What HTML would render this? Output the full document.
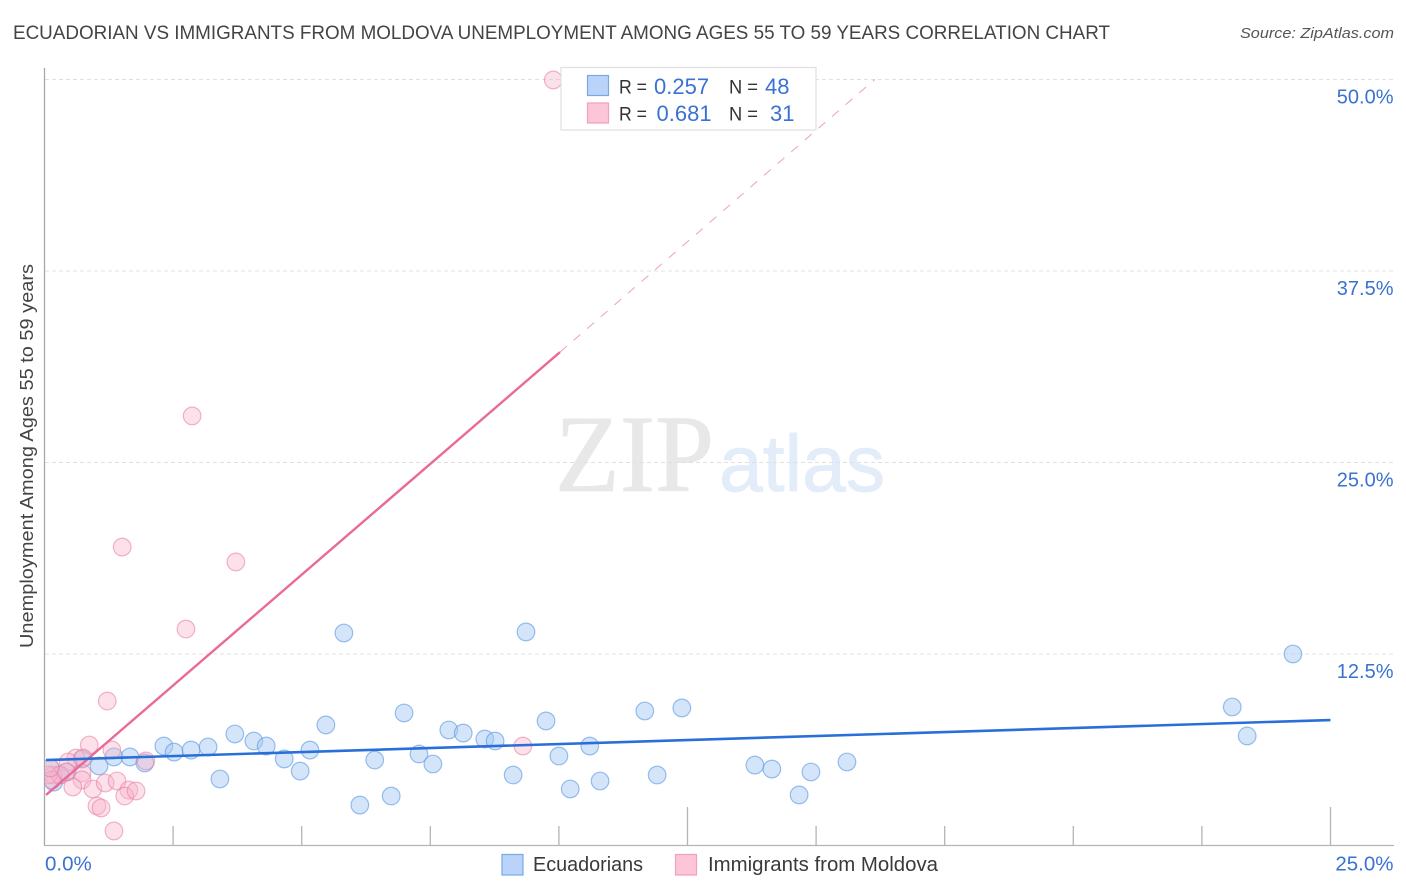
<!DOCTYPE html>
<html lang="en">
<head>
<meta charset="utf-8">
<title>Ecuadorian vs Immigrants from Moldova Unemployment Correlation Chart</title>
<style>
html,body{margin:0;padding:0;background:#fff;width:1406px;height:892px;overflow:hidden}
svg{display:block;font-family:"Liberation Sans",sans-serif}
</style>
</head>
<body>
<svg id="chart" xmlns="http://www.w3.org/2000/svg" width="1406" height="892" viewBox="0 0 1406 892">
  <defs>
    <clipPath id="plot-clip"><rect x="45.2" y="60" width="1360" height="786"/></clipPath>
  </defs>
  <rect width="1406" height="892" fill="#fff"/>
  <text x="13" y="39" font-size="19.5" fill="#444" textLength="1097" lengthAdjust="spacingAndGlyphs">ECUADORIAN VS IMMIGRANTS FROM MOLDOVA UNEMPLOYMENT AMONG AGES 55 TO 59 YEARS CORRELATION CHART</text>
  <text x="1394" y="38" font-size="15" font-style="italic" fill="#555" text-anchor="end" textLength="154" lengthAdjust="spacingAndGlyphs">Source: ZipAtlas.com</text>
  <text x="555" y="491" font-family="'Liberation Serif',serif" font-size="110" fill="#e8e8e8" stroke="#e8e8e8" stroke-width="0.8" textLength="159" lengthAdjust="spacingAndGlyphs">ZIP</text>
  <text x="719" y="491" font-size="80" fill="#e3ecf9" stroke="#e3ecf9" stroke-width="0.8" textLength="166" lengthAdjust="spacingAndGlyphs">atlas</text>
  <g id="grid"></g>
  <g id="axes"></g>
  <g id="series" clip-path="url(#plot-clip)"></g>
  <text transform="translate(33,456) rotate(-90)" font-size="18.5" fill="#444" text-anchor="middle" textLength="384" lengthAdjust="spacingAndGlyphs">Unemployment Among Ages 55 to 59 years</text>

  <g>
    <rect x="561" y="67.5" width="255" height="62.5" fill="#fff" stroke="#e0e0e0" stroke-width="1.2"/>
    <rect x="587.5" y="75.5" width="21" height="20" fill="#b9d4f8" stroke="#7aa8e6" stroke-width="1.2"/>
    <rect x="587.5" y="103" width="21" height="20" fill="#fcc6d8" stroke="#f0a0ba" stroke-width="1.2"/>
    <g font-size="19.5" fill="#333">
      <text x="619" y="93.5" textLength="28" lengthAdjust="spacingAndGlyphs">R =</text>
      <text x="729" y="93.5" textLength="29" lengthAdjust="spacingAndGlyphs">N =</text>
      <text x="619" y="120.5" textLength="28" lengthAdjust="spacingAndGlyphs">R =</text>
      <text x="729" y="120.5" textLength="29" lengthAdjust="spacingAndGlyphs">N =</text>
    </g>
    <g font-size="22" fill="#3a72d2">
      <text x="654" y="94">0.257</text>
      <text x="765" y="94">48</text>
      <text x="656.5" y="121">0.681</text>
      <text x="770" y="121">31</text>
    </g>
  </g>

  <g>
    <rect x="502" y="854.5" width="21" height="20.5" fill="#b9d4f8" stroke="#7aa8e6" stroke-width="1.2"/>
    <text x="533" y="871" font-size="20" fill="#3a3a3a" textLength="110" lengthAdjust="spacingAndGlyphs">Ecuadorians</text>
    <rect x="675.5" y="854.5" width="21" height="20.5" fill="#fcc6d8" stroke="#f0a0ba" stroke-width="1.2"/>
    <text x="708" y="871" font-size="20" fill="#3a3a3a" textLength="230" lengthAdjust="spacingAndGlyphs">Immigrants from Moldova</text>
  </g>
</svg>

<script>
const ecuadorianX = [0.11,0.18,0.30,0.44,0.73,1.06,1.35,1.66,1.95,2.32,2.52,2.85,3.18,3.41,3.70,4.07,4.31,4.66,4.97,5.16,5.47,5.82,6.13,6.42,6.74,6.99,7.28,7.55,7.86,8.14,8.56,8.76,9.11,9.36,9.75,10.00,10.22,10.60,10.80,11.67,11.91,12.39,13.81,14.14,14.67,14.90,15.60,23.09,23.38,24.27];
const ecuadorianY = [5.06,4.14,4.60,4.80,5.65,5.19,5.78,5.78,5.39,6.49,6.10,6.23,6.43,4.34,7.28,6.82,6.49,5.65,4.86,6.23,7.87,13.87,2.64,5.58,3.23,8.65,5.97,5.32,7.54,7.34,6.95,6.82,4.60,13.94,8.13,5.84,3.69,6.49,4.21,8.78,4.60,8.98,5.25,4.99,3.30,4.80,5.45,9.04,7.15,12.50];
const moldovaX = [9.89,2.87,1.51,3.72,2.75,1.22,9.30,0.87,1.31,0.61,0.46,0.75,1.97,0.17,0.30,0.73,0.73,0.55,0.94,1.18,1.41,1.64,1.56,1.78,1.02,1.10,1.35,0.07,0.15,0.42,0.11];
const moldovaY = [49.97,28.04,19.48,18.51,14.13,9.43,6.49,6.56,6.23,5.71,5.45,5.71,5.52,4.60,4.60,4.73,4.28,3.82,3.69,4.08,4.21,3.62,3.23,3.56,2.58,2.45,0.95,4.60,4.28,4.80,5.06];
const ecuadorianTrendX = [0.03,25.0];
const ecuadorianTrendY = [5.58,8.19];
const moldovaTrendX = [0.03,10.02];
const moldovaTrendY = [3.30,32.20];
const moldovaExtensionX = [10.02,16.14];
const moldovaExtensionY = [32.20,50.00];
const yTickValues = [12.5,25.0,37.5,50.0];
const yTickLabels = ["12.5%","25.0%","37.5%","50.0%"];
const xTickValues = [2.5,5,7.5,10,12.5,15,17.5,20,22.5,25];
const xMajorTicks = [12.5,25];

const NS = "http://www.w3.org/2000/svg";
function xScale(v){ return 44.5 + v * 51.44; }
function yScale(v){ return 845.5 - v * 15.32; }
function make(parent, tag, attrs){
  const el = document.createElementNS(NS, tag);
  for (const k in attrs) el.setAttribute(k, attrs[k]);
  parent.appendChild(el);
  return el;
}
const grid = document.getElementById("grid");
const axes = document.getElementById("axes");
const series = document.getElementById("series");

yTickValues.forEach(function(v, i){
  const line = make(grid, "line", {x1:45, x2:1394, y1:yScale(v), y2:yScale(v), stroke:"#e0e0e0", "stroke-width":1, "stroke-dasharray":"4 3"});
  
  
  const label = make(axes, "text", {x:1393.5, y:yScale(v)+24, "font-size":20, fill:"#3a72d2", "text-anchor":"end"});
  
  
  label.textContent = yTickLabels[i];
});

const yAxis = make(axes, "line", {x1:44.5, x2:44.5, y1:68, y2:846, stroke:"#a8a8a8", "stroke-width":1.3});


const xAxis = make(axes, "line", {x1:44, x2:1394, y1:845.5, y2:845.5, stroke:"#b4b4b4", "stroke-width":1.3});



xTickValues.forEach(function(v){
  const top = xMajorTicks.indexOf(v) >= 0 ? 807 : 826;
  const tick = make(axes, "line", {x1:xScale(v), x2:xScale(v), y1:top, y2:845.5, stroke:"#b4b4b4", "stroke-width":1.3});
  
  
});

const xMin = make(axes, "text", {x:45, y:870.5, "font-size":20.5, fill:"#3a72d2"});


xMin.textContent = "0.0%";
const xMax = make(axes, "text", {x:1393.5, y:870.5, "font-size":20.5, fill:"#3a72d2", "text-anchor":"end"});


xMax.textContent = "25.0%";

ecuadorianX.forEach(function(v, i){
  const dot = make(series, "circle", {cx:xScale(v), cy:yScale(ecuadorianY[i]), r:8.8, fill:"#a6c8f3", "fill-opacity":0.48, stroke:"#5c9ae4", "stroke-opacity":0.62, "stroke-width":1.2});
  
  
});
moldovaX.forEach(function(v, i){
  const dot = make(series, "circle", {cx:xScale(v), cy:yScale(moldovaY[i]), r:8.8, fill:"#f9b6cc", "fill-opacity":0.42, stroke:"#e87fa3", "stroke-opacity":0.58, "stroke-width":1.2});
  
  
});

const ext = make(series, "line", {x1:xScale(moldovaExtensionX[0]), y1:yScale(moldovaExtensionY[0]), x2:xScale(moldovaExtensionX[1]), y2:yScale(moldovaExtensionY[1]), stroke:"#eea0ba", "stroke-width":1, "stroke-dasharray":"9 9"});


const moldovaTrend = make(series, "line", {x1:xScale(moldovaTrendX[0]), y1:yScale(moldovaTrendY[0]), x2:xScale(moldovaTrendX[1]), y2:yScale(moldovaTrendY[1]), stroke:"#e96a98", "stroke-width":2.4});


const ecuadorianTrend = make(series, "line", {x1:xScale(ecuadorianTrendX[0]), y1:yScale(ecuadorianTrendY[0]), x2:xScale(ecuadorianTrendX[1]), y2:yScale(ecuadorianTrendY[1]), stroke:"#2a6fd8", "stroke-width":2.6});


</script>
</body>
</html>
